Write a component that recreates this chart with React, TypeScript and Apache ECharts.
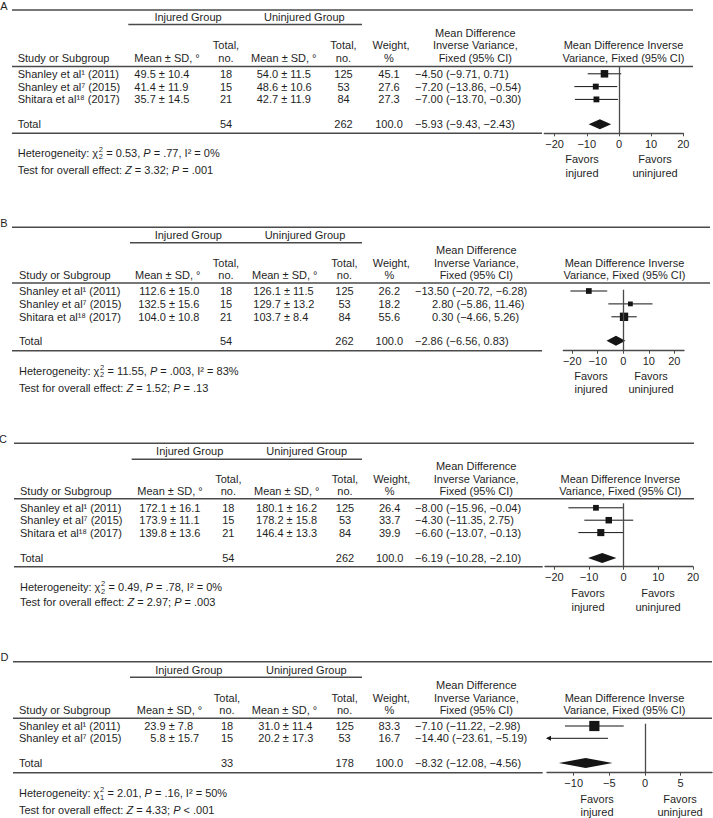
import React, { useEffect, useRef } from "react";
import * as echarts from "echarts";

// ---------------- DATA ----------------
const panelNames = ["A", "B", "C", "D"];

const studiesABC = ["Shanley et al¹ (2011)", "Shanley et al⁷ (2015)", "Shitara et al¹⁸ (2017)"];
const studiesD = ["Shanley et al¹ (2011)", "Shanley et al⁷ (2015)"];

// Panel A
const injMeanA = [49.5, 41.4, 35.7];
const injSdA = [10.4, 11.9, 14.5];
const injNA = [18, 15, 21];
const uninjMeanA = [54.0, 48.6, 42.7];
const uninjSdA = [11.5, 10.6, 11.9];
const uninjNA = [125, 53, 84];
const weightA = [45.1, 27.6, 27.3];
const mdA = [-4.5, -7.2, -7.0];
const lowerA = [-9.71, -13.86, -13.7];
const upperA = [0.71, -0.54, -0.3];

// Panel B
const injMeanB = [112.6, 132.5, 104.0];
const injSdB = [15.0, 15.6, 10.8];
const injNB = [18, 15, 21];
const uninjMeanB = [126.1, 129.7, 103.7];
const uninjSdB = [11.5, 13.2, 8.4];
const uninjNB = [125, 53, 84];
const weightB = [26.2, 18.2, 55.6];
const mdB = [-13.5, 2.8, 0.3];
const lowerB = [-20.72, -5.86, -4.66];
const upperB = [-6.28, 11.46, 5.26];

// Panel C
const injMeanC = [172.1, 173.9, 139.8];
const injSdC = [16.1, 11.1, 13.6];
const injNC = [18, 15, 21];
const uninjMeanC = [180.1, 178.2, 146.4];
const uninjSdC = [16.2, 15.8, 13.3];
const uninjNC = [125, 53, 84];
const weightC = [26.4, 33.7, 39.9];
const mdC = [-8.0, -4.3, -6.6];
const lowerC = [-15.96, -11.35, -13.07];
const upperC = [-0.04, 2.75, -0.13];

// Panel D
const injMeanD = [23.9, 5.8];
const injSdD = [7.8, 15.7];
const injND = [18, 15];
const uninjMeanD = [31.0, 20.2];
const uninjSdD = [11.4, 17.3];
const uninjND = [125, 53];
const weightD = [83.3, 16.7];
const mdD = [-7.1, -14.4];
const lowerD = [-11.22, -23.61];
const upperD = [-2.98, -5.19];

// Totals and statistics (A, B, C, D)
const totalInjN = [54, 54, 54, 33];
const totalUninjN = [262, 262, 262, 178];
const totalWeight = [100.0, 100.0, 100.0, 100.0];
const totalMd = [-5.93, -2.86, -6.19, -8.32];
const totalLower = [-9.43, -6.56, -10.28, -12.08];
const totalUpper = [-2.43, 0.83, -2.1, -4.56];
const hetChi2 = [0.53, 11.55, 0.49, 2.01];
const hetDf = [2, 2, 2, 1];
const hetP = [".77", ".003", ".78", ".16"];
const hetI2 = [0, 83, 0, 50];
const zValue = [3.32, 1.52, 2.97, 4.33];
const zP = ["= .001", "= .13", "= .003", "< .001"];

// Axis tick labels
const ticksA = [-20, -10, 0, 10, 20];
const ticksB = [-20, -10, 0, 10, 20];
const ticksC = [-20, -10, 0, 10, 20];
const ticksD = [-10, -5, 0, 5];

// Axis extents
const axisMin = [-23.2, -23.5, -22.7, -13.74];
const axisMax = [20, 23.8, 20, 9.4];

const panels = [
  { studies: studiesABC, injMean: injMeanA, injSd: injSdA, injN: injNA, unMean: uninjMeanA, unSd: uninjSdA, unN: uninjNA, weight: weightA, md: mdA, lo: lowerA, hi: upperA, ticks: ticksA },
  { studies: studiesABC, injMean: injMeanB, injSd: injSdB, injN: injNB, unMean: uninjMeanB, unSd: uninjSdB, unN: uninjNB, weight: weightB, md: mdB, lo: lowerB, hi: upperB, ticks: ticksB },
  { studies: studiesABC, injMean: injMeanC, injSd: injSdC, injN: injNC, unMean: uninjMeanC, unSd: uninjSdC, unN: uninjNC, weight: weightC, md: mdC, lo: lowerC, hi: upperC, ticks: ticksC },
  { studies: studiesD, injMean: injMeanD, injSd: injSdD, injN: injND, unMean: uninjMeanD, unSd: uninjSdD, unN: uninjND, weight: weightD, md: mdD, lo: lowerD, hi: upperD, ticks: ticksD },
];

// ---------------- LAYOUT ----------------
const layouts = [
  { labelX: 4, labelY: 6, ruleL: 12, ruleR: 693, top: 10, grpY: 17, grpLineY: 24.5, grpL: 128.3, grpR: 362, h1: 33.3, h2: 45.3, h3: 58, hdr: 66.5, row0: 73.8, step: 12.8, totIdx: 3.95, bot: 133.3, botR: 542, textL: 17.7, injGrpX: 188, unGrpX: 304.3, meanHdrInj: 167, meanHdrUn: 283.8, pmInj: 158.8, pmUn: 281.2, totInjX: 226, totUnX: 343.5, wX: 389, mdX: 415, mdHdrX: 475.3, plotHdrX: 623.5, het: 152.7, test: 169.7, zeroTop: 66.5, axisL: 544.3, axisR: 683.3, favY1: 159.3, favY2: 172.7, favInjX: 582, favUnX: 655 },
  { labelX: 4, labelY: 223.3, ruleL: 12, ruleR: 710, top: 227.3, grpY: 234.7, grpLineY: 242.7, grpL: 130, grpR: 362, h1: 250, h2: 262.7, h3: 275.3, hdr: 283, row0: 291, step: 12.9, totIdx: 3.85, bot: 350.7, botR: 542, textL: 19, injGrpX: 188.3, unGrpX: 305, meanHdrInj: 167.7, meanHdrUn: 284.7, pmInj: 168.9, pmUn: 283.9, totInjX: 226, totUnX: 344.5, wX: 389.3, mdX: 415, mdHdrX: 476.3, plotHdrX: 624.5, het: 370.7, test: 388.3, zeroTop: 289.7, axisL: 563.3, axisR: 684, favY1: 376, favY2: 389.3, favInjX: 591, favUnX: 651 },
  { labelX: 3, labelY: 439.3, ruleL: 14, ruleR: 694, top: 443.3, grpY: 451.3, grpLineY: 459.3, grpL: 131.7, grpR: 362, h1: 466, h2: 479, h3: 490.7, hdr: 498.7, row0: 507.8, step: 12.4, totIdx: 4.05, bot: 566.7, botR: 542.7, textL: 20, injGrpX: 189.7, unGrpX: 306.7, meanHdrInj: 170, meanHdrUn: 286.7, pmInj: 169.9, pmUn: 286.6, totInjX: 228.3, totUnX: 345, wX: 389.7, mdX: 415, mdHdrX: 476.2, plotHdrX: 620.3, het: 587.3, test: 601.7, zeroTop: 503.3, axisL: 545, axisR: 693, favY1: 593.3, favY2: 606.7, favInjX: 588, favUnX: 658 },
  { labelX: 4.5, labelY: 656.7, ruleL: 13, ruleR: 712, top: 661.7, grpY: 670, grpLineY: 677.3, grpL: 130, grpR: 362, h1: 685, h2: 697.7, h3: 710, hdr: 718.3, row0: 726, step: 12.3, totIdx: 3.0, bot: 772.7, botR: 542.7, textL: 19, injGrpX: 188.8, unGrpX: 306.3, meanHdrInj: 169.5, meanHdrUn: 284.5, pmInj: 168.7, pmUn: 282.8, totInjX: 227, totUnX: 344.6, wX: 389.3, mdX: 415, mdHdrX: 476.3, plotHdrX: 624.5, het: 793.3, test: 810, zeroTop: 723.7, axisL: 547, axisR: 712, favY1: 799, favY2: 811.7, favInjX: 597, favUnX: 680 },
];

const FONT_FAMILY = '"Liberation Sans", Arial, Helvetica, sans-serif';
const TXT = "#1f1f1f";
const RULE = "#4a4a4a";
const MARK = "#151515";

let measureCtx: CanvasRenderingContext2D | null = null;
function tw(s: string, size = 11, italic = false): number {
  if (!measureCtx) measureCtx = document.createElement("canvas").getContext("2d");
  if (!measureCtx) return s.length * size * 0.55;
  measureCtx.font = `${italic ? "italic " : ""}${size}px "Liberation Sans", Arial, sans-serif`;
  return measureCtx.measureText(s).width;
}

const minus = (s: string) => s.replace(/-/g, "\u2212");
const f2 = (v: number) => minus(v.toFixed(2));
const f1 = (v: number) => v.toFixed(1);

const richStyles = {
  i: { fontStyle: "italic", fontSize: 11, fontFamily: FONT_FAMILY, fill: TXT },
};

function T(x: number, y: number, s: string, align = "left", opts: any = {}) {
  const style: any = {
    text: s,
    fill: TXT,
    fontSize: opts.size ?? 11,
    fontFamily: FONT_FAMILY,
    fontStyle: opts.italic ? "italic" : "normal",
    align,
    verticalAlign: "middle",
  };
  if (opts.rich) style.rich = opts.rich;
  return { type: "text", x, y, silent: true, style };
}

function H(x1: number, x2: number, y: number, w = 1.4) {
  return { type: "line", silent: true, shape: { x1, y1: y, x2, y2: y }, style: { stroke: RULE, lineWidth: w } };
}

function buildGraphics() {
  const g: any[] = [];
  panels.forEach((P, i) => {
    const L = layouts[i];
    const rowY = (k: number) => L.row0 + k * L.step;
    g.push(T(L.labelX, L.labelY, panelNames[i], "center"));
    g.push(H(L.ruleL, L.ruleR, L.top));
    g.push(T(L.injGrpX, L.grpY, "Injured Group", "center"));
    g.push(T(L.unGrpX, L.grpY, "Uninjured Group", "center"));
    g.push(H(L.grpL, L.grpR, L.grpLineY));
    // column headers
    g.push(T(L.textL, L.h3, "Study or Subgroup"));
    g.push(T(L.meanHdrInj, L.h3, "Mean ± SD, °", "center"));
    g.push(T(L.totInjX, L.h2, "Total,", "center"));
    g.push(T(L.totInjX, L.h3, "no.", "center"));
    g.push(T(L.meanHdrUn, L.h3, "Mean ± SD, °", "center"));
    g.push(T(L.totUnX, L.h2, "Total,", "center"));
    g.push(T(L.totUnX, L.h3, "no.", "center"));
    g.push(T(L.wX + 2, L.h2, "Weight,", "center"));
    g.push(T(L.wX, L.h3, "%", "center"));
    g.push(T(L.mdHdrX, L.h1, "Mean Difference", "center"));
    g.push(T(L.mdHdrX, L.h2, "Inverse Variance,", "center"));
    g.push(T(L.mdHdrX, L.h3, "Fixed (95% CI)", "center"));
    g.push(T(L.plotHdrX, L.h2, "Mean Difference Inverse", "center"));
    g.push(T(L.plotHdrX, L.h3, "Variance, Fixed (95% CI)", "center"));
    g.push(H(L.ruleL, L.ruleR, L.hdr));
    // study rows
    P.studies.forEach((name, k) => {
      const y = rowY(k);
      g.push(T(L.textL, y, name));
      const mi = f1(P.injMean[k]);
      g.push(T(L.pmInj - tw(mi + " "), y, `${mi} ± ${f1(P.injSd[k])}`));
      g.push(T(L.totInjX, y, String(P.injN[k]), "center"));
      const mu = f1(P.unMean[k]);
      g.push(T(L.pmUn - tw(mu + " "), y, `${mu} ± ${f1(P.unSd[k])}`));
      g.push(T(L.totUnX, y, String(P.unN[k]), "center"));
      g.push(T(L.wX, y, f1(P.weight[k]), "center"));
      const pad = P.md[k] >= 0 ? 17 : 0;
      g.push(T(L.mdX + pad, y, `${f2(P.md[k])} (${f2(P.lo[k])}, ${f2(P.hi[k])})`));
    });
    // total row
    const ty = rowY(L.totIdx);
    g.push(T(L.textL, ty, "Total"));
    g.push(T(L.totInjX, ty, String(totalInjN[i]), "center"));
    g.push(T(L.totUnX, ty, String(totalUninjN[i]), "center"));
    g.push(T(L.wX, ty, f1(totalWeight[i]), "center"));
    const tpad = totalMd[i] >= 0 ? 17 : 0;
    g.push(T(L.mdX + tpad, ty, `${f2(totalMd[i])} (${f2(totalLower[i])}, ${f2(totalUpper[i])})`));
    g.push(H(L.ruleL, L.botR, L.bot));
    // heterogeneity
    const head = "Heterogeneity: χ";
    const wHead = tw(head);
    g.push(T(L.textL, L.het, head));
    g.push(T(L.textL + wHead + 0.6, L.het - 3.6, "2", "left", { size: 7.5 }));
    g.push(T(L.textL + wHead + 0.6, L.het + 3.8, String(hetDf[i]), "left", { size: 7.5 }));
    const tailX = L.textL + wHead + tw("2", 7.5) + 1;
    g.push(
      T(tailX, L.het, ` = ${hetChi2[i].toFixed(2)}, {i|P} = ${hetP[i]}, I² = ${hetI2[i]}%`, "left", { rich: richStyles })
    );
    g.push(
      T(L.textL, L.test, `Test for overall effect: {i|Z} = ${zValue[i].toFixed(2)}; {i|P} ${zP[i]}`, "left", { rich: richStyles })
    );
    // favors
    g.push(T(L.favInjX, L.favY1, "Favors", "center"));
    g.push(T(L.favInjX, L.favY2, "injured", "center"));
    g.push(T(L.favUnX, L.favY1, "Favors", "center"));
    g.push(T(L.favUnX, L.favY2, "uninjured", "center"));
  });
  return g;
}

function buildOption() {
  const grid: any[] = [];
  const xAxis: any[] = [];
  const yAxis: any[] = [];
  const series: any[] = [];
  panels.forEach((P, i) => {
    const L = layouts[i];
    const xmin = axisMin[i];
    const xmax = axisMax[i];
    grid.push({
      left: L.axisL,
      top: L.zeroTop,
      width: L.axisR - L.axisL,
      height: L.bot - L.zeroTop,
      containLabel: false,
      outerBoundsMode: "none",
    });
    xAxis.push({
      gridIndex: i,
      type: "value",
      min: xmin,
      max: xmax,
      position: "bottom",
      axisLine: { show: true, onZero: false, lineStyle: { color: RULE, width: 1.3 } },
      axisTick: { show: true, inside: false, length: 3, customValues: P.ticks, lineStyle: { color: RULE, width: 1 } },
      axisLabel: {
        show: true,
        customValues: P.ticks,
        margin: 5,
        fontSize: 11,
        fontFamily: FONT_FAMILY,
        color: TXT,
        formatter: (v: number) => (v < 0 ? "\u2212" + Math.abs(v) : String(v)),
      },
      splitLine: { show: false },
    });
    yAxis.push({
      gridIndex: i,
      type: "value",
      inverse: true,
      min: (L.zeroTop - L.row0) / L.step,
      max: (L.bot - L.row0) / L.step,
      show: false,
    });
    const studyData = P.studies.map((_, k) => [P.md[k], k, P.lo[k], P.hi[k], P.weight[k]]);
    series.push({
      type: "custom",
      xAxisIndex: i,
      yAxisIndex: i,
      clip: false,
      silent: true,
      encode: { x: 0, y: 1 },
      data: studyData,
      renderItem: (params: any, api: any) => {
        const est = api.value(0);
        const idx = api.value(1);
        const lo = api.value(2);
        const hi = api.value(3);
        const w = api.value(4);
        const loC = Math.max(lo, xmin);
        const hiC = Math.min(hi, xmax);
        const p1 = api.coord([loC, idx]);
        const p2 = api.coord([hiC, idx]);
        const y = p1[1];
        const children: any[] = [
          { type: "line", shape: { x1: p1[0], y1: y, x2: p2[0], y2: y }, style: { stroke: MARK, lineWidth: 1 } },
        ];
        if (lo < xmin) {
          children.push({
            type: "polygon",
            shape: { points: [[p1[0] - 1, y], [p1[0] + 4, y - 2.5], [p1[0] + 4, y + 2.5]] },
            style: { fill: MARK },
          });
        }
        if (hi > xmax) {
          children.push({
            type: "polygon",
            shape: { points: [[p2[0] + 1, y], [p2[0] - 4, y - 2.5], [p2[0] - 4, y + 2.5]] },
            style: { fill: MARK },
          });
        }
        if (est >= xmin && est <= xmax) {
          const c = api.coord([est, idx]);
          const s = 1.12 * Math.sqrt(w);
          children.push({
            type: "rect",
            shape: { x: c[0] - s / 2, y: c[1] - s / 2, width: s, height: s },
            style: { fill: MARK },
          });
        }
        return { type: "group", children };
      },
    });
    series.push({
      type: "custom",
      xAxisIndex: i,
      yAxisIndex: i,
      clip: false,
      silent: true,
      encode: { x: 0, y: 1 },
      data: [[totalMd[i], L.totIdx, totalLower[i], totalUpper[i]]],
      renderItem: (params: any, api: any) => {
        const idx = api.value(1);
        const c = api.coord([api.value(0), idx]);
        const a = api.coord([api.value(2), idx]);
        const b = api.coord([api.value(3), idx]);
        const h = 5;
        return {
          type: "polygon",
          shape: { points: [[a[0], c[1]], [c[0], c[1] - h], [b[0], c[1]], [c[0], c[1] + h]] },
          style: { fill: MARK },
        };
      },
      markLine: {
        silent: true,
        symbol: ["none", "none"],
        label: { show: false },
        lineStyle: { color: RULE, width: 1.3, type: "solid" },
        data: [{ xAxis: 0 }],
      },
    });
  });
  return {
    animation: false,
    backgroundColor: "#ffffff",
    grid,
    xAxis,
    yAxis,
    series,
    graphic: { elements: buildGraphics() },
  };
}

export default function App() {
  const ref = useRef<HTMLDivElement>(null);
  useEffect(() => {
    if (!ref.current) return;
    const chart = echarts.init(ref.current, undefined, { renderer: "svg" });
    chart.setOption(buildOption() as any);
    return () => chart.dispose();
  }, []);
  return (
    <div
      ref={ref}
      style={{ position: "absolute", left: 0, top: 0, width: 713, height: 818, background: "#fff" }}
    />
  );
}
